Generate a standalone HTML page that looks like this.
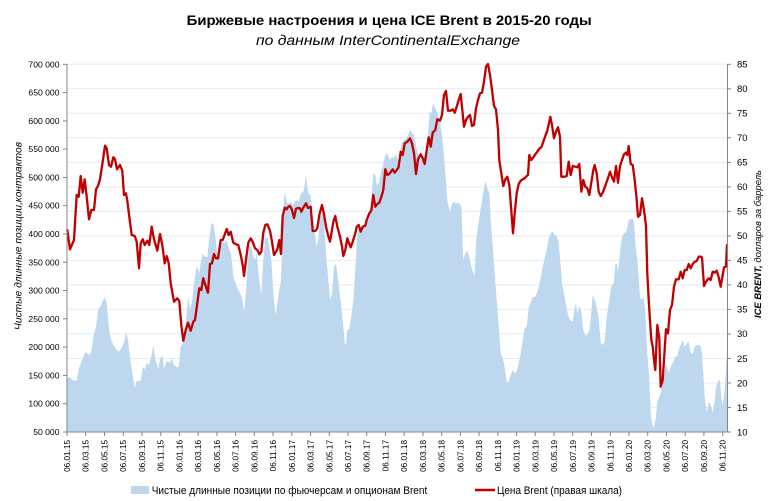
<!DOCTYPE html>
<html><head><meta charset="utf-8"><style>
html,body{margin:0;padding:0;background:#fff;}
svg{display:block;}
</style></head><body>
<svg width="774" height="501" viewBox="0 0 774 501" xmlns="http://www.w3.org/2000/svg" font-family="'Liberation Sans', sans-serif">
<rect width="774" height="501" fill="#fff"/>
<!-- titles -->
<text x="186.7" y="25" font-size="13.5" font-weight="bold" fill="#000" textLength="405" lengthAdjust="spacingAndGlyphs">Биржевые настроения  и цена ICE Brent в 2015-20 годы</text>
<text x="256" y="45" font-size="13.5" font-style="italic" fill="#000" textLength="264" lengthAdjust="spacingAndGlyphs">по данным InterContinentalExchange</text>
<!-- gridlines -->
<g stroke="#e4ecf4" stroke-width="1">
<line x1="67" x2="727.5" y1="407.5" y2="407.5"/><line x1="67" x2="727.5" y1="383" y2="383"/><line x1="67" x2="727.5" y1="358.5" y2="358.5"/><line x1="67" x2="727.5" y1="333.9" y2="333.9"/><line x1="67" x2="727.5" y1="309.4" y2="309.4"/><line x1="67" x2="727.5" y1="284.9" y2="284.9"/><line x1="67" x2="727.5" y1="260.4" y2="260.4"/><line x1="67" x2="727.5" y1="235.9" y2="235.9"/><line x1="67" x2="727.5" y1="211.4" y2="211.4"/><line x1="67" x2="727.5" y1="186.9" y2="186.9"/><line x1="67" x2="727.5" y1="162.4" y2="162.4"/><line x1="67" x2="727.5" y1="137.8" y2="137.8"/><line x1="67" x2="727.5" y1="113.3" y2="113.3"/><line x1="67" x2="727.5" y1="88.8" y2="88.8"/><line x1="67" x2="727.5" y1="64.3" y2="64.3"/>
</g>
<!-- blue area -->
<polygon fill="#bdd7ee" points="67,432 67,378.3 70,376.7 72.3,380 76.7,380.7 79,368.3 82.3,359.3 85.7,351.7 89,355 91.3,351.7 94,333.3 96,326.7 98,310 100.7,306 102.3,301.7 104.7,297.3 106.7,303.3 108.7,326.7 110.7,338.3 113.3,345 116.7,350 119,351.7 121.3,348.3 124,342.7 126,331.7 128,340 130,356.7 132.3,373.3 134.7,388.3 136.7,380.7 140.7,380.7 142.7,366.7 144.7,369.3 146.7,363.3 149,365 151.3,356.7 153.3,346 155.7,360 158,369.3 160,359.3 162.3,355.3 164,369.3 166,362.7 168,360.7 170,363.3 171.3,357.7 174,365 176.7,367.3 178.7,366.7 180.7,346.7 182.7,343.3 184.7,340 186.7,312.7 188.3,296.7 190,310 192,301.7 194,283.3 196,270 197.3,266.7 199.3,273.3 200.7,262.7 202.7,254 205.3,256.7 207.3,257.3 209.3,238.3 211.3,224 213.3,223.3 215.3,236.7 217.3,253.3 219.3,250 221.3,242.7 224,243.3 226.7,240 228.7,248.3 230.7,253.3 231.7,260 233.3,276.7 236,285 238.3,290 241.7,296.7 244,311.7 246,293.3 247.3,266.7 249.3,246.7 251.3,245 253.3,256.7 255.3,260 256.7,253.3 258.7,276.7 261.3,295 263.3,260 265.3,238.3 267.3,236.7 269.3,246.7 271.3,260 273.3,293.3 274.7,308.3 276,315 277.3,303.3 279.3,290 280.7,283.3 282,253.3 283.3,210 284.7,191.7 286,198.3 287.3,203.3 289.3,202.7 291.3,201.7 292.7,205 294.7,201.7 296.7,200 298.7,201.7 300,196.7 301.3,193.3 303.3,191.7 304.7,185 306,174 307.3,186 308.7,195 310,193.3 311.3,203.3 312.7,216.7 314.7,233.3 316.7,246.7 318.7,236.7 320,216.7 321.3,215 322.7,211.7 324,223.3 326,253.3 328,276.7 330,300 332,293.3 334,266.7 336,264 337.3,273.3 339.3,290 341.3,306.7 343.3,326.7 344.7,343.3 346,345 347.3,330 349.3,329.3 351.3,316.7 353.3,300 355.3,270 357.3,233.3 358.7,230 360.7,231.7 363.3,225 366.7,223.3 369.3,216.7 371.3,200 373.3,173.3 375.3,175 376.7,185 378.7,183.3 380.7,173.3 382.7,166.7 384.7,156.7 386.7,153.3 388.7,156.7 390,160 392,156.7 394,158.3 396,154.3 398,160 399.7,156.7 401.3,144 404,140 406.3,138.3 408,135 409.7,130 411.3,131.7 414,135 416.3,146.7 418.7,156.7 421.3,160 424,156.7 426.3,150 428,136.7 429.7,111.7 431.3,113.3 433.3,102.7 435.3,108.3 437.3,112.7 439.3,120 441.3,130 443.3,148.3 445.3,173.3 447.3,200 449.7,211.7 452,204 454,201.7 456,204 458,202.7 460,204 461.3,206.7 463.3,260 465.3,253.3 467.3,250.7 469.3,256.7 471.3,266.7 473.3,273.3 474.7,276 476,241.7 478,226.7 480,213.3 482,200 484,188.3 485.3,180.7 487.3,188.3 489.3,192.7 490.7,220 492.7,246.7 494.7,273.3 496.7,300 498.7,326.7 500.7,353.3 502.7,358.3 504.7,366.7 506.7,382.7 508.7,381.7 510.7,375 512.7,370 514.7,373.3 516.7,371.7 518.7,363.3 520.7,353.3 522.7,340 524.7,328.3 526.7,326.7 528.7,308.3 530.7,302.7 532.7,296.7 534.7,297.3 536.7,293.3 538.7,286.7 540.7,278.3 542.7,266.7 544.7,258.3 546.7,250 548.7,238.3 550.7,233.3 552.7,231.7 554.7,235 556.7,236.7 558.7,241.7 560.7,266.7 562,283.3 564,293.3 566,305 568,315 570,320 572.7,321.7 574.7,308.3 576,303.3 577.3,313.3 579.3,306 581.3,311.7 583.3,330 585.3,335 587.3,335 589.3,330 591.3,313.3 592.7,295 594.7,300 596.7,306.7 598.7,318.3 600.7,343.3 602.7,345 604.7,341.7 606.7,316.7 608.7,303.3 610.7,290 612,285 613.7,283.3 615.3,265 616.7,263.3 618,271.7 620,253.3 622,236.7 624,233.3 626,231.7 627.3,228.3 628.7,220 630.7,219.3 632.7,218.3 634,223.3 635.3,243.3 637.3,260 638.7,276.7 640,298.3 642,299.3 644,298.3 645.3,313.3 647.3,353.3 649.3,380 650.7,413.3 652,423.3 654,428.3 656,416.7 657.3,401.7 659.3,396.7 660.7,393.3 662,386.7 664,376.7 666,363.3 668,371.7 669.3,371.7 671.3,365 673.3,361.7 675.3,356.7 677.3,356 678.7,350 680.7,345 682.7,340 684.7,346.7 686.7,343.3 688.7,341.7 690.7,352.7 692.7,354 694.7,346.7 696.7,345 698.7,345 700.7,346 702,353.3 703.3,373.3 704.7,396.7 706.7,413.3 708.7,401.7 710.7,405 712.7,412.7 714.7,400 716,388.3 718,381 720,380 721.3,396.7 722.7,405 724.7,390 726.7,356.7 727.5,341.7 727.5,432"/>
<!-- red line -->
<polyline fill="none" stroke="#c00000" stroke-width="2.3" stroke-linejoin="round" stroke-linecap="round" points="67.3,230 70,249.3 74,240 76.7,195 78.7,196.7 80.7,176 82.7,192.7 84.7,179.3 86.7,196.7 89,219.3 91.3,210 94,210 96,189.3 98,186 100,179.3 102.7,161.7 105,145.7 106.7,148.3 109,165 111,166.7 113.3,157.3 115,159.3 117,169.3 120,165 122.3,170.7 124,195 126,193.3 127.3,200.7 129.3,216.7 131.7,235 134.7,236 136.7,241.7 139,268.3 140.7,243.3 142.7,239.3 144.7,245 147.3,240.7 149.3,245 151.7,226.7 154,239.3 157.3,250.7 160,234 162.3,245 164.7,263.3 166.7,256 168.7,263.3 170.7,283.3 174,301.7 177.3,298.3 179.3,301 181.3,325 183.3,340.7 185.7,330 188,322.7 190.7,330.7 193.3,321.7 195,320 197.3,303.3 199.3,288.3 201.3,290 203.3,278.3 205.7,286 208,292.7 210,264 212,263.3 214,254 216,258.3 218,258.3 220.7,240 222.7,240 226.7,229 228.7,235 230.7,231.7 233.3,242.7 236,244.3 238.3,245 240.7,255 242.7,265 244,276 246,260 248.3,242.7 250.7,238.3 252.7,241.7 255,248.3 257.3,250 259.3,254.3 261.3,251.7 263.3,232.7 265.3,225 267.3,224.3 270,230.7 272,241.7 274,255 276,251.7 277.3,249.3 279.3,240 281,254 282.7,216 284.7,207.7 286.7,209.3 288.3,206.7 290,206 292,210 294,218 296,208.7 298,208 300,208.3 301.3,211.7 303.3,207.7 306,203.3 308,208 310.7,206.7 312.7,231 315.3,231 317.3,228.3 319.3,215 322,205 324,214.3 326,226.7 328,235 330,241.7 332,230 333.3,221.7 335.3,216 337.3,226.7 340,236.7 342,246.7 343.3,256 345.3,250 347.3,238.3 349.3,244 350.7,247.3 352.7,241.7 355.3,233.3 356.7,226.7 358.7,225 360.7,231.7 362.7,226.7 365.3,225.7 366.7,220 369.3,213.3 371.3,210.7 373.3,195 375.3,206.7 377.3,204 379.3,202.7 381.7,195.7 383.3,190 385.3,169.3 387.3,175 389.3,174 392.7,169.3 394.7,172.7 396.7,170 398.5,167.5 400,157 400.7,151.7 402.7,155 404.7,143.3 407.3,141.7 410,138.3 412,143.3 414,153.3 416,174 418,159.3 420.7,154.3 422.7,158.3 424.7,164 426.7,150 428.7,137.3 430.7,146.7 432.7,132.7 435.3,130 437.3,119.3 440,120.7 442,115 444,95 446,91 448,110.7 450.7,110.7 452.7,109.3 454.7,112.7 456.7,106.7 458.7,100 460.7,94 462,106.7 464,126.7 466,120 468,116.7 470,115 472,126 474,125 476,108.3 478,100 480,93.3 482,92.7 484,81.7 486,66.7 488,64 490,75 492,90 494,106 496,109.3 498,130 499.3,160 501.3,173.3 503.3,186 505.3,179.3 507.3,176.7 509.3,185 511.3,210 513,233.3 514.7,213.3 516.7,193.3 518.7,184 520.7,180.7 522.7,179.3 524.7,178.3 526.7,176 528,175 529.3,155 531.3,160 533.3,157.3 535.3,154.3 537.3,151.7 539.3,148.7 541.3,147.3 543.3,141.7 545.3,136 547.3,130.7 549.3,121.7 550.3,116.7 552,125 554,138.3 556,131.7 558,127.3 560,136.7 561.3,176.7 564.7,176.7 566.7,176 568.7,161.7 570.7,175 572.7,166 575.3,166.7 577.3,167.3 579.3,164 581.3,191.7 583.3,180 585.3,186.7 587.3,188.3 589.3,195 591.3,182.7 593.3,170 594.7,165 596.7,173.3 598.7,191.7 600.7,196 602.7,192.7 604.7,187.3 606.7,181.7 608.7,176 610,171.7 612,177.3 614,181.7 616,166 618,182.7 620,166 622,160 624,154.3 626,152.7 627.3,155 628.7,146 630.7,164 632.7,165 634.7,180 636.7,200 638,216.7 640,215 642,198.3 643.3,206 644.7,215 646,226 647.3,273.3 648.7,300 650,320 651.3,340 652.7,346.7 654,360 655.3,370 657.3,325 659.3,338.3 660.7,386.7 662.7,380 664,360 666,329.3 668,333.3 670,310 672,305 674,286.7 676,279.3 678.7,279.3 680.7,271.7 682.7,278.3 684.7,270 686.7,270 688.7,264 690.7,268.3 692.7,264 694.7,261.7 696.7,261 698.7,256.7 700.7,256.7 702,257.3 704,286 706,281.7 708.7,278.3 710.7,280 712.7,271.7 714.7,272.7 716.7,270.7 718.7,277.3 720.7,286.7 722.7,275 724,267.3 726,266.7 727,245"/>
<!-- axes -->
<g stroke="#868686" stroke-width="1" fill="none">
<line x1="67" y1="64" x2="67" y2="432.5"/>
<line x1="727.5" y1="64" x2="727.5" y2="432.5"/>
<line x1="67" y1="432" x2="727.5" y2="432"/>
</g>
<g stroke="#868686" stroke-width="1">
<line x1="63" x2="67" y1="64.3" y2="64.3"/><line x1="63" x2="67" y1="92.6" y2="92.6"/><line x1="63" x2="67" y1="120.9" y2="120.9"/><line x1="63" x2="67" y1="149.1" y2="149.1"/><line x1="63" x2="67" y1="177.4" y2="177.4"/><line x1="63" x2="67" y1="205.7" y2="205.7"/><line x1="63" x2="67" y1="234" y2="234"/><line x1="63" x2="67" y1="262.3" y2="262.3"/><line x1="63" x2="67" y1="290.5" y2="290.5"/><line x1="63" x2="67" y1="318.8" y2="318.8"/><line x1="63" x2="67" y1="347.1" y2="347.1"/><line x1="63" x2="67" y1="375.4" y2="375.4"/><line x1="63" x2="67" y1="403.7" y2="403.7"/><line x1="63" x2="67" y1="432" y2="432"/>
<line x1="727.5" x2="731" y1="64.3" y2="64.3"/><line x1="727.5" x2="731" y1="88.8" y2="88.8"/><line x1="727.5" x2="731" y1="113.3" y2="113.3"/><line x1="727.5" x2="731" y1="137.8" y2="137.8"/><line x1="727.5" x2="731" y1="162.4" y2="162.4"/><line x1="727.5" x2="731" y1="186.9" y2="186.9"/><line x1="727.5" x2="731" y1="211.4" y2="211.4"/><line x1="727.5" x2="731" y1="235.9" y2="235.9"/><line x1="727.5" x2="731" y1="260.4" y2="260.4"/><line x1="727.5" x2="731" y1="284.9" y2="284.9"/><line x1="727.5" x2="731" y1="309.4" y2="309.4"/><line x1="727.5" x2="731" y1="333.9" y2="333.9"/><line x1="727.5" x2="731" y1="358.5" y2="358.5"/><line x1="727.5" x2="731" y1="383" y2="383"/><line x1="727.5" x2="731" y1="407.5" y2="407.5"/><line x1="727.5" x2="731" y1="432" y2="432"/>
<line x1="67" x2="67" y1="432" y2="436"/><line x1="85.7" x2="85.7" y1="432" y2="436"/><line x1="104.5" x2="104.5" y1="432" y2="436"/><line x1="123.2" x2="123.2" y1="432" y2="436"/><line x1="141.9" x2="141.9" y1="432" y2="436"/><line x1="160.7" x2="160.7" y1="432" y2="436"/><line x1="179.4" x2="179.4" y1="432" y2="436"/><line x1="198.1" x2="198.1" y1="432" y2="436"/><line x1="216.9" x2="216.9" y1="432" y2="436"/><line x1="235.6" x2="235.6" y1="432" y2="436"/><line x1="254.3" x2="254.3" y1="432" y2="436"/><line x1="273.1" x2="273.1" y1="432" y2="436"/><line x1="291.8" x2="291.8" y1="432" y2="436"/><line x1="310.5" x2="310.5" y1="432" y2="436"/><line x1="329.3" x2="329.3" y1="432" y2="436"/><line x1="348" x2="348" y1="432" y2="436"/><line x1="366.7" x2="366.7" y1="432" y2="436"/><line x1="385.5" x2="385.5" y1="432" y2="436"/><line x1="404.2" x2="404.2" y1="432" y2="436"/><line x1="422.9" x2="422.9" y1="432" y2="436"/><line x1="441.7" x2="441.7" y1="432" y2="436"/><line x1="460.4" x2="460.4" y1="432" y2="436"/><line x1="479.1" x2="479.1" y1="432" y2="436"/><line x1="497.9" x2="497.9" y1="432" y2="436"/><line x1="516.6" x2="516.6" y1="432" y2="436"/><line x1="535.3" x2="535.3" y1="432" y2="436"/><line x1="554.1" x2="554.1" y1="432" y2="436"/><line x1="572.8" x2="572.8" y1="432" y2="436"/><line x1="591.5" x2="591.5" y1="432" y2="436"/><line x1="610.3" x2="610.3" y1="432" y2="436"/><line x1="629" x2="629" y1="432" y2="436"/><line x1="647.7" x2="647.7" y1="432" y2="436"/><line x1="666.5" x2="666.5" y1="432" y2="436"/><line x1="685.2" x2="685.2" y1="432" y2="436"/><line x1="703.9" x2="703.9" y1="432" y2="436"/><line x1="722.7" x2="722.7" y1="432" y2="436"/>
</g>
<!-- left labels -->
<g font-size="8.6" fill="#000" text-anchor="end">
<text x="59.5" y="67.3">700 000</text><text x="59.5" y="95.6">650 000</text><text x="59.5" y="123.9">600 000</text><text x="59.5" y="152.1">550 000</text><text x="59.5" y="180.4">500 000</text><text x="59.5" y="208.7">450 000</text><text x="59.5" y="237">400 000</text><text x="59.5" y="265.3">350 000</text><text x="59.5" y="293.5">300 000</text><text x="59.5" y="321.8">250 000</text><text x="59.5" y="350.1">200 000</text><text x="59.5" y="378.4">150 000</text><text x="59.5" y="406.7">100 000</text><text x="59.5" y="435">50 000</text>
</g>
<!-- right labels -->
<g font-size="9.5" fill="#000">
<text x="737" y="67.6">85</text><text x="737" y="92.1">80</text><text x="737" y="116.6">75</text><text x="737" y="141.1">70</text><text x="737" y="165.7">65</text><text x="737" y="190.2">60</text><text x="737" y="214.7">55</text><text x="737" y="239.2">50</text><text x="737" y="263.7">45</text><text x="737" y="288.2">40</text><text x="737" y="312.7">35</text><text x="737" y="337.2">30</text><text x="737" y="361.8">25</text><text x="737" y="386.3">20</text><text x="737" y="410.8">15</text><text x="737" y="435.3">10</text>
</g>
<!-- x labels -->
<g font-size="8.2" fill="#000" text-anchor="end">
<text transform="translate(70,440) rotate(-90)">06.01.15</text>
<text transform="translate(88.7,440) rotate(-90)">06.03.15</text>
<text transform="translate(107.5,440) rotate(-90)">06.05.15</text>
<text transform="translate(126.2,440) rotate(-90)">06.07.15</text>
<text transform="translate(144.9,440) rotate(-90)">06.09.15</text>
<text transform="translate(163.7,440) rotate(-90)">06.11.15</text>
<text transform="translate(182.4,440) rotate(-90)">06.01.16</text>
<text transform="translate(201.1,440) rotate(-90)">06.03.16</text>
<text transform="translate(219.9,440) rotate(-90)">06.05.16</text>
<text transform="translate(238.6,440) rotate(-90)">06.07.16</text>
<text transform="translate(257.3,440) rotate(-90)">06.09.16</text>
<text transform="translate(276.1,440) rotate(-90)">06.11.16</text>
<text transform="translate(294.8,440) rotate(-90)">06.01.17</text>
<text transform="translate(313.5,440) rotate(-90)">06.03.17</text>
<text transform="translate(332.3,440) rotate(-90)">06.05.17</text>
<text transform="translate(351,440) rotate(-90)">06.07.17</text>
<text transform="translate(369.7,440) rotate(-90)">06.09.17</text>
<text transform="translate(388.5,440) rotate(-90)">06.11.17</text>
<text transform="translate(407.2,440) rotate(-90)">06.01.18</text>
<text transform="translate(425.9,440) rotate(-90)">06.03.18</text>
<text transform="translate(444.7,440) rotate(-90)">06.05.18</text>
<text transform="translate(463.4,440) rotate(-90)">06.07.18</text>
<text transform="translate(482.1,440) rotate(-90)">06.09.18</text>
<text transform="translate(500.9,440) rotate(-90)">06.11.18</text>
<text transform="translate(519.6,440) rotate(-90)">06.01.19</text>
<text transform="translate(538.3,440) rotate(-90)">06.03.19</text>
<text transform="translate(557.1,440) rotate(-90)">06.05.19</text>
<text transform="translate(575.8,440) rotate(-90)">06.07.19</text>
<text transform="translate(594.5,440) rotate(-90)">06.09.19</text>
<text transform="translate(613.3,440) rotate(-90)">06.11.19</text>
<text transform="translate(632,440) rotate(-90)">06.01.20</text>
<text transform="translate(650.7,440) rotate(-90)">06.03.20</text>
<text transform="translate(669.5,440) rotate(-90)">06.05.20</text>
<text transform="translate(688.2,440) rotate(-90)">06.07.20</text>
<text transform="translate(706.9,440) rotate(-90)">06.09.20</text>
<text transform="translate(725.7,440) rotate(-90)">06.11.20</text>
</g>
<!-- axis titles -->
<text transform="translate(21.5,236) rotate(-90)" font-size="10" font-style="italic" fill="#000" text-anchor="middle" textLength="188" lengthAdjust="spacingAndGlyphs">Чистые длинные позиции,контрактов</text>
<text transform="translate(761,244) rotate(-90)" font-size="9.5" font-style="italic" fill="#000" text-anchor="middle" textLength="148" lengthAdjust="spacingAndGlyphs"><tspan font-weight="bold">ICE BRENT,</tspan> долларов за баррель</text>
<!-- legend -->
<rect x="131" y="486" width="18" height="8" fill="#bdd7ee"/>
<text x="151.7" y="494" font-size="11" fill="#000" textLength="275.6" lengthAdjust="spacingAndGlyphs">Чистые длинные позиции по фьючерсам и опционам Brent</text>
<line x1="475" y1="490" x2="495" y2="490" stroke="#c00000" stroke-width="2.5"/>
<text x="497" y="494" font-size="11" fill="#000" textLength="125" lengthAdjust="spacingAndGlyphs">Цена Brent (правая шкала)</text>
</svg>
</body></html>
